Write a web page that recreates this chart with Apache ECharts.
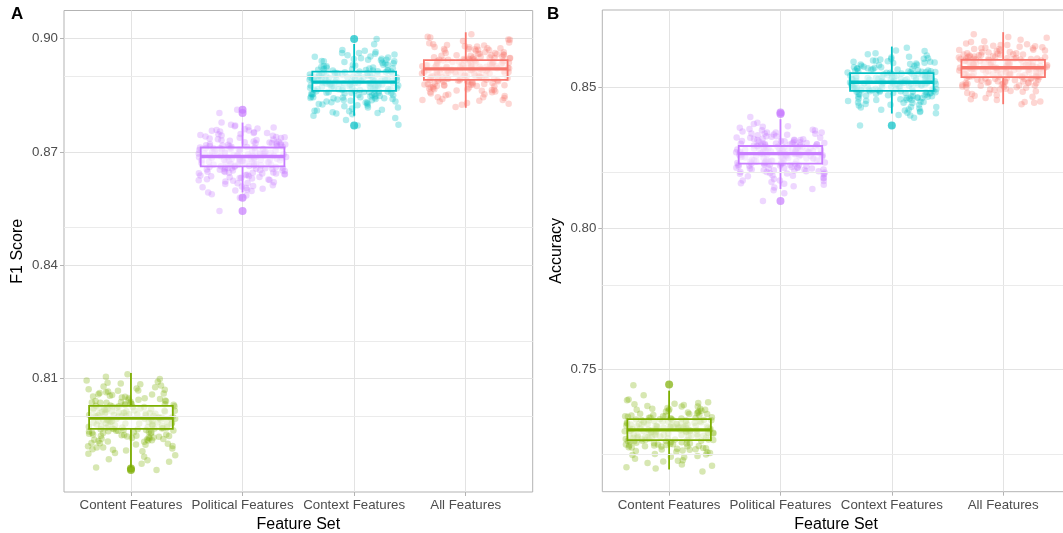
<!DOCTYPE html>
<html><head><meta charset="utf-8">
<script src="https://cdn.jsdelivr.net/npm/echarts@6/dist/echarts.min.js"></script>
<style>html,body{margin:0;padding:0;background:#fff}#c{width:1063px;height:533px}</style>
</head><body><div id="c"></div>
<script>
// ---------- data ----------
const categories = ['Content Features','Political Features','Context Features','All Features'];
const colors = ['#7CAE00','#C77CFF','#00BFC4','#F8766D'];
const yTicksA = [0.81,0.84,0.87,0.90];
const yMinorA = [0.795,0.825,0.855,0.885];
const yTicksB = [0.75,0.80,0.85];
const yMinorB = [0.725,0.775,0.825,0.875];

// Panel A: F1 Score per run
const f1Content = [0.7998,0.8032,0.7971,0.8010,0.7952,0.8045,0.7989,0.7925,0.8018,0.7967,0.8061,0.7994,0.7940,0.8027,0.7983,0.8089,0.7958,0.8004,0.7912,0.8036,0.7976,0.8069,0.8001,0.7935,0.8023,0.7962,0.8105,0.7990,0.7880,0.8014,0.7969,0.8052,0.7946,0.8007,0.7978,0.8095,0.7903,0.8029,0.7986,0.8040,0.7961,0.7858,0.8019,0.7949,0.8074,0.7996,0.7930,0.8012,0.7973,0.8112,0.7893,0.8035,0.7981,0.7918,0.8048,0.7865,0.8003,0.7965,0.8082,0.7942,
 0.7985,0.8021,0.7957,0.8008,0.7938,0.8050,0.7992,0.7970,0.8030,0.7915,0.8066,0.8000,0.7948,0.8016,0.7979,0.8079,0.7963,0.8025,0.7897,0.8042,0.7987,0.8058,0.7954,0.8011,0.7975,0.8099,0.7933,0.8033,0.7993,0.7922,0.8006,0.7959,0.8071,0.7984,0.7908,0.8038,0.7968,0.8055,0.7944,0.8015,0.7980,0.7875,0.8026,0.7955,0.8087,0.7997,0.7928,0.8009,0.7972,0.8044,0.7887,0.8020,0.7988,0.7950,0.8064,0.7937,0.8002,0.7966,0.8077,0.7910,
 0.7991,0.8013,0.7968,0.8037,0.7951,0.8002,0.7983,0.8057,0.7929,0.8019,0.7977,0.7999,0.8041,0.7960,0.8008,0.7944,0.8027,0.7986,0.8072,0.7918,0.8004,0.7973,0.8033,0.7956,0.7995,0.8015,0.7939,0.8049,0.7981,0.8010,0.7964,0.8085,0.7901,0.8024,0.7990,0.7947,0.8006,0.7976,0.8062,0.7934,0.8017,0.7969,0.8000,0.8039,0.7952,0.7993,0.8028,0.7921,0.8011,0.7982,0.8053,0.7943,0.8003,0.7966,0.8092,0.7884,0.8022,0.7987,0.7958,0.8046,0.7974,0.8007,0.7936,0.8031,0.7994,0.7962,0.8068,0.7913,0.8013,0.7979,0.8001,0.7949,0.8036,0.7970,0.8018,0.7941,0.8059,0.7985,0.7926,0.8025];
const f1Political = [0.8690,0.8715,0.8664,0.8702,0.8641,0.8731,0.8679,0.8625,0.8708,0.8657,0.8748,0.8686,0.8633,0.8721,0.8672,0.8765,0.8650,0.8697,0.8612,0.8726,0.8668,0.8756,0.8693,0.8630,0.8711,0.8655,0.8778,0.8683,0.8600,0.8705,0.8661,0.8740,0.8645,0.8699,0.8674,0.8803,0.8593,0.8719,0.8681,0.8734,0.8653,0.8544,0.8709,0.8640,0.8760,0.8688,0.8620,0.8701,0.8666,0.8812,0.8579,0.8724,0.8677,0.8607,0.8737,0.8585,0.8695,0.8659,0.8752,0.8636,
 0.8682,0.8707,0.8651,0.8694,0.8628,0.8736,0.8676,0.8660,0.8717,0.8615,0.8745,0.8689,0.8638,0.8703,0.8670,0.8758,0.8656,0.8713,0.8597,0.8728,0.8680,0.8743,0.8647,0.8700,0.8669,0.8770,0.8626,0.8720,0.8685,0.8617,0.8696,0.8652,0.8754,0.8678,0.8605,0.8723,0.8663,0.8739,0.8643,0.8704,0.8673,0.8588,0.8714,0.8648,0.8768,0.8691,0.8622,0.8698,0.8667,0.8732,0.8598,0.8710,0.8684,0.8644,0.8750,0.8632,0.8692,0.8658,0.8762,0.8610,
 0.8685,0.8703,0.8667,0.8722,0.8654,0.8694,0.8679,0.8741,0.8636,0.8710,0.8674,0.8689,0.8727,0.8660,0.8698,0.8646,0.8716,0.8681,0.8757,0.8624,0.8696,0.8671,0.8719,0.8657,0.8687,0.8706,0.8641,0.8733,0.8677,0.8700,0.8663,0.8766,0.8609,0.8713,0.8684,0.8649,0.8697,0.8672,0.8747,0.8639,0.8708,0.8668,0.8691,0.8725,0.8655,0.8686,0.8718,0.8627,0.8701,0.8678,0.8738,0.8645,0.8694,0.8665,0.8772,0.8603,0.8712,0.8682,0.8658,0.8730,0.8673,0.8699,0.8634,0.8720,0.8688,0.8662,0.8750,0.8618,0.8705,0.8676,0.8692,0.8651,0.8724,0.8669,0.8709,0.8643,0.8744,0.8683,0.8631,0.8715];
const f1Context = [0.8887,0.8910,0.8866,0.8899,0.8848,0.8925,0.8879,0.8832,0.8905,0.8860,0.8941,0.8884,0.8840,0.8916,0.8872,0.8956,0.8855,0.8894,0.8821,0.8920,0.8868,0.8948,0.8890,0.8837,0.8907,0.8858,0.8968,0.8881,0.8809,0.8902,0.8863,0.8934,0.8850,0.8896,0.8875,0.8999,0.8800,0.8914,0.8878,0.8929,0.8857,0.8770,0.8904,0.8845,0.8952,0.8886,0.8827,0.8898,0.8869,0.8985,0.8790,0.8918,0.8876,0.8815,0.8931,0.8772,0.8892,0.8861,0.8946,0.8843,
 0.8880,0.8903,0.8853,0.8893,0.8834,0.8930,0.8874,0.8859,0.8911,0.8818,0.8944,0.8889,0.8839,0.8900,0.8867,0.8958,0.8852,0.8909,0.8805,0.8923,0.8877,0.8940,0.8846,0.8897,0.8870,0.8962,0.8826,0.8913,0.8883,0.8812,0.8895,0.8851,0.8950,0.8876,0.8802,0.8917,0.8864,0.8936,0.8842,0.8901,0.8871,0.8785,0.8908,0.8847,0.8965,0.8888,0.8824,0.8893,0.8865,0.8927,0.8796,0.8906,0.8882,0.8844,0.8943,0.8831,0.8891,0.8856,0.8960,0.8808,
 0.8883,0.8901,0.8866,0.8920,0.8853,0.8892,0.8878,0.8938,0.8836,0.8908,0.8873,0.8887,0.8924,0.8859,0.8896,0.8845,0.8913,0.8880,0.8953,0.8823,0.8894,0.8870,0.8916,0.8856,0.8885,0.8903,0.8840,0.8930,0.8876,0.8898,0.8862,0.8962,0.8810,0.8910,0.8882,0.8848,0.8895,0.8871,0.8944,0.8838,0.8905,0.8867,0.8889,0.8922,0.8854,0.8884,0.8915,0.8828,0.8899,0.8877,0.8935,0.8844,0.8891,0.8864,0.8970,0.8803,0.8909,0.8881,0.8857,0.8927,0.8872,0.8897,0.8834,0.8917,0.8886,0.8861,0.8947,0.8818,0.8902,0.8875,0.8890,0.8850,0.8921,0.8868,0.8906,0.8842,0.8940,0.8882,0.8831,0.8912];
const f1All = [0.8921,0.8942,0.8897,0.8930,0.8880,0.8955,0.8912,0.8865,0.8937,0.8893,0.8969,0.8918,0.8872,0.8947,0.8905,0.8980,0.8888,0.8926,0.8855,0.8951,0.8900,0.8975,0.8923,0.8868,0.8939,0.8890,0.8994,0.8915,0.8845,0.8934,0.8895,0.8962,0.8883,0.8928,0.8908,0.9012,0.8838,0.8945,0.8911,0.8958,0.8889,0.8819,0.8936,0.8877,0.8978,0.8919,0.8860,0.8931,0.8902,0.9003,0.8830,0.8949,0.8909,0.8850,0.8960,0.8825,0.8925,0.8894,0.8972,0.8875,
 0.8914,0.8936,0.8886,0.8927,0.8866,0.8960,0.8908,0.8892,0.8944,0.8852,0.8973,0.8922,0.8874,0.8933,0.8901,0.8985,0.8887,0.8941,0.8840,0.8952,0.8911,0.8968,0.8879,0.8929,0.8904,0.8990,0.8862,0.8946,0.8916,0.8848,0.8927,0.8885,0.8977,0.8910,0.8836,0.8949,0.8898,0.8964,0.8876,0.8933,0.8906,0.8828,0.8940,0.8881,0.8998,0.8920,0.8858,0.8926,0.8899,0.8956,0.8834,0.8938,0.8917,0.8878,0.8971,0.8864,0.8924,0.8890,0.8983,0.8843,
 0.8918,0.8936,0.8901,0.8955,0.8888,0.8927,0.8913,0.8973,0.8871,0.8943,0.8908,0.8922,0.8959,0.8894,0.8931,0.8880,0.8948,0.8915,0.8988,0.8858,0.8929,0.8905,0.8951,0.8891,0.8920,0.8938,0.8875,0.8965,0.8911,0.8933,0.8897,0.8997,0.8845,0.8945,0.8917,0.8883,0.8930,0.8906,0.8979,0.8873,0.8940,0.8902,0.8924,0.8957,0.8889,0.8919,0.8950,0.8863,0.8934,0.8912,0.8970,0.8879,0.8926,0.8899,0.9005,0.8838,0.8944,0.8916,0.8892,0.8962,0.8907,0.8932,0.8869,0.8952,0.8921,0.8896,0.8982,0.8853,0.8937,0.8910,0.8925,0.8885,0.8956,0.8903,0.8941,0.8877,0.8975,0.8917,0.8866,0.8947];
// [lower whisker, Q1, median, Q3, upper whisker]
const f1Box = [[0.7865,0.7967,0.7996,0.8028,0.8115],[0.8593,0.8662,0.8688,0.8712,0.8778],[0.8796,0.8862,0.8885,0.8913,0.8986],[0.8817,0.8891,0.8920,0.8943,0.9017]];
const f1Outliers = [[0,0.7858],[0,0.7862],[1,0.8812],[1,0.8803],[1,0.8579],[1,0.8544],[2,0.8999],[2,0.8770]];

// Panel B: Accuracy per run
const accContent = [0.7289,0.7318,0.7262,0.7302,0.7240,0.7335,0.7279,0.7220,0.7310,0.7255,0.7352,0.7285,0.7228,0.7322,0.7270,0.7370,0.7247,0.7295,0.7200,0.7328,0.7266,0.7360,0.7292,0.7225,0.7314,0.7251,0.7385,0.7282,0.7185,0.7306,0.7259,0.7343,0.7236,0.7298,0.7274,0.7410,0.7170,0.7320,0.7280,0.7338,0.7249,0.7140,0.7312,0.7232,0.7365,0.7288,0.7212,0.7300,0.7264,0.7445,0.7160,0.7326,0.7277,0.7195,0.7346,0.7150,0.7294,0.7256,0.7378,0.7230,
 0.7277,0.7312,0.7248,0.7296,0.7222,0.7340,0.7283,0.7265,0.7320,0.7205,0.7355,0.7290,0.7235,0.7306,0.7268,0.7372,0.7252,0.7316,0.7180,0.7331,0.7281,0.7349,0.7242,0.7299,0.7262,0.7392,0.7214,0.7324,0.7286,0.7198,0.7297,0.7245,0.7362,0.7276,0.7175,0.7329,0.7258,0.7344,0.7234,0.7304,0.7271,0.7155,0.7317,0.7239,0.7380,0.7291,0.7208,0.7301,0.7261,0.7336,0.7165,0.7309,0.7284,0.7229,0.7358,0.7218,0.7293,0.7253,0.7375,0.7190,
 0.7285,0.7307,0.7264,0.7330,0.7248,0.7296,0.7279,0.7352,0.7226,0.7316,0.7272,0.7290,0.7335,0.7255,0.7301,0.7239,0.7322,0.7282,0.7370,0.7210,0.7298,0.7268,0.7325,0.7251,0.7287,0.7309,0.7232,0.7343,0.7276,0.7303,0.7259,0.7382,0.7192,0.7319,0.7284,0.7243,0.7299,0.7269,0.7358,0.7229,0.7313,0.7263,0.7292,0.7332,0.7249,0.7286,0.7323,0.7217,0.7305,0.7278,0.7349,0.7237,0.7297,0.7261,0.7395,0.7178,0.7317,0.7283,0.7253,0.7339,0.7271,0.7302,0.7223,0.7327,0.7288,0.7257,0.7362,0.7202,0.7308,0.7274,0.7294,0.7244,0.7334,0.7266,0.7311,0.7235,0.7355,0.7284,0.7219,0.7321];
const accPolitical = [0.8266,0.8293,0.8238,0.8279,0.8215,0.8310,0.8256,0.8195,0.8286,0.8232,0.8327,0.8262,0.8205,0.8298,0.8248,0.8343,0.8224,0.8272,0.8178,0.8303,0.8243,0.8335,0.8269,0.8200,0.8289,0.8228,0.8360,0.8259,0.8160,0.8282,0.8236,0.8318,0.8212,0.8275,0.8251,0.8395,0.8150,0.8296,0.8257,0.8314,0.8226,0.8097,0.8288,0.8208,0.8340,0.8264,0.8188,0.8277,0.8241,0.8408,0.8140,0.8301,0.8254,0.8170,0.8322,0.8125,0.8270,0.8233,0.8352,0.8206,
 0.8258,0.8287,0.8227,0.8273,0.8203,0.8316,0.8263,0.8244,0.8297,0.8185,0.8332,0.8268,0.8215,0.8284,0.8249,0.8350,0.8230,0.8294,0.8165,0.8309,0.8260,0.8325,0.8221,0.8278,0.8240,0.8370,0.8193,0.8302,0.8265,0.8175,0.8276,0.8223,0.8340,0.8255,0.8155,0.8306,0.8237,0.8321,0.8213,0.8283,0.8250,0.8135,0.8295,0.8218,0.8357,0.8270,0.8190,0.8280,0.8242,0.8313,0.8145,0.8290,0.8261,0.8209,0.8336,0.8198,0.8272,0.8234,0.8347,0.8168,
 0.8263,0.8285,0.8241,0.8308,0.8225,0.8274,0.8257,0.8330,0.8203,0.8294,0.8250,0.8268,0.8313,0.8232,0.8279,0.8216,0.8300,0.8260,0.8348,0.8187,0.8276,0.8246,0.8303,0.8228,0.8265,0.8287,0.8209,0.8321,0.8254,0.8281,0.8236,0.8362,0.8170,0.8297,0.8262,0.8220,0.8277,0.8247,0.8336,0.8206,0.8291,0.8240,0.8270,0.8310,0.8226,0.8264,0.8301,0.8194,0.8283,0.8256,0.8327,0.8214,0.8275,0.8238,0.8374,0.8158,0.8295,0.8261,0.8230,0.8317,0.8249,0.8280,0.8200,0.8305,0.8266,0.8234,0.8340,0.8180,0.8286,0.8252,0.8272,0.8222,0.8312,0.8244,0.8289,0.8212,0.8333,0.8262,0.8196,0.8299];
const accContext = [0.8519,0.8547,0.8494,0.8533,0.8472,0.8566,0.8510,0.8452,0.8541,0.8488,0.8582,0.8515,0.8460,0.8553,0.8503,0.8598,0.8480,0.8526,0.8435,0.8559,0.8498,0.8590,0.8522,0.8456,0.8544,0.8485,0.8612,0.8512,0.8420,0.8537,0.8491,0.8573,0.8468,0.8529,0.8506,0.8640,0.8412,0.8551,0.8513,0.8569,0.8482,0.8365,0.8540,0.8464,0.8594,0.8517,0.8444,0.8531,0.8496,0.8630,0.8402,0.8556,0.8508,0.8430,0.8578,0.8415,0.8524,0.8489,0.8605,0.8462,
 0.8511,0.8542,0.8480,0.8527,0.8455,0.8571,0.8516,0.8497,0.8552,0.8438,0.8586,0.8521,0.8466,0.8538,0.8502,0.8601,0.8484,0.8549,0.8418,0.8563,0.8514,0.8580,0.8474,0.8532,0.8493,0.8620,0.8446,0.8557,0.8520,0.8428,0.8530,0.8477,0.8592,0.8509,0.8408,0.8560,0.8490,0.8576,0.8467,0.8536,0.8501,0.8392,0.8548,0.8471,0.8608,0.8523,0.8441,0.8534,0.8495,0.8565,0.8400,0.8543,0.8518,0.8459,0.8588,0.8449,0.8528,0.8486,0.8600,0.8425,
 0.8516,0.8539,0.8494,0.8562,0.8477,0.8527,0.8510,0.8584,0.8455,0.8548,0.8503,0.8521,0.8567,0.8484,0.8532,0.8468,0.8554,0.8513,0.8603,0.8438,0.8529,0.8499,0.8557,0.8480,0.8518,0.8541,0.8461,0.8575,0.8507,0.8535,0.8488,0.8617,0.8421,0.8551,0.8515,0.8472,0.8530,0.8500,0.8590,0.8458,0.8545,0.8493,0.8523,0.8564,0.8478,0.8517,0.8555,0.8445,0.8537,0.8509,0.8581,0.8466,0.8528,0.8490,0.8628,0.8410,0.8549,0.8514,0.8482,0.8571,0.8502,0.8533,0.8451,0.8559,0.8519,0.8486,0.8595,0.8430,0.8540,0.8505,0.8525,0.8474,0.8566,0.8496,0.8543,0.8463,0.8587,0.8515,0.8448,0.8553];
const accAll = [0.8570,0.8596,0.8543,0.8582,0.8520,0.8614,0.8561,0.8502,0.8590,0.8538,0.8630,0.8566,0.8510,0.8601,0.8554,0.8645,0.8530,0.8577,0.8487,0.8607,0.8548,0.8638,0.8573,0.8506,0.8593,0.8535,0.8660,0.8563,0.8472,0.8586,0.8541,0.8620,0.8516,0.8580,0.8557,0.8688,0.8462,0.8599,0.8564,0.8617,0.8532,0.8440,0.8588,0.8512,0.8642,0.8568,0.8495,0.8579,0.8546,0.8678,0.8455,0.8604,0.8559,0.8480,0.8625,0.8448,0.8575,0.8539,0.8652,0.8514,
 0.8562,0.8591,0.8530,0.8578,0.8505,0.8619,0.8567,0.8549,0.8602,0.8490,0.8635,0.8572,0.8519,0.8589,0.8553,0.8650,0.8534,0.8598,0.8470,0.8612,0.8564,0.8628,0.8524,0.8583,0.8545,0.8668,0.8498,0.8606,0.8569,0.8478,0.8581,0.8527,0.8640,0.8560,0.8458,0.8609,0.8540,0.8624,0.8515,0.8587,0.8552,0.8445,0.8600,0.8521,0.8655,0.8574,0.8492,0.8584,0.8547,0.8616,0.8450,0.8595,0.8565,0.8509,0.8633,0.8500,0.8576,0.8537,0.8647,0.8484,
 0.8567,0.8589,0.8546,0.8611,0.8530,0.8578,0.8561,0.8632,0.8509,0.8598,0.8555,0.8572,0.8616,0.8537,0.8583,0.8521,0.8604,0.8564,0.8650,0.8492,0.8580,0.8551,0.8607,0.8533,0.8569,0.8591,0.8515,0.8623,0.8559,0.8586,0.8541,0.8663,0.8476,0.8601,0.8566,0.8525,0.8581,0.8552,0.8638,0.8512,0.8595,0.8545,0.8574,0.8613,0.8531,0.8568,0.8605,0.8500,0.8587,0.8560,0.8629,0.8519,0.8579,0.8543,0.8675,0.8466,0.8599,0.8565,0.8535,0.8620,0.8554,0.8584,0.8506,0.8609,0.8570,0.8539,0.8643,0.8486,0.8590,0.8557,0.8576,0.8527,0.8615,0.8549,0.8593,0.8517,0.8635,0.8567,0.8503,0.8602];
const accBox = [[0.7147,0.7251,0.7287,0.7325,0.7426],[0.8140,0.8230,0.8265,0.8292,0.8387],[0.8407,0.8487,0.8518,0.8550,0.8644],[0.8440,0.8536,0.8569,0.8597,0.8695]];
const accOutliers = [[0,0.7448],[1,0.8405],[1,0.8411],[1,0.8097],[2,0.8365]];

// ---------- chart ----------
const TXT = '#4D4D4D', FONT = '"Liberation Sans", Arial, sans-serif';
const catPos = categories.map((c,i)=>i+1);
// deterministic horizontal jitter offset within +-0.4 category units (position only)
function jitter(i, g){ const s = Math.sin(i * 12.9898 + g * 78.233 + 1.7) * 43758.5453; return (s - Math.floor(s)) * 0.8 - 0.4; }
function jitterSeries(vals, g, axis){
  return {type:'scatter', xAxisIndex:axis, yAxisIndex:axis, z:2, silent:true,
    symbolSize:6.5, itemStyle:{color:colors[g], opacity:0.3},
    data: vals.map((v,i)=>[g+1+jitter(i + axis*1000, g), v])};
}
function renderBox(params, api){
  const x = api.value(0), c = colors[params.dataIndex];
  const hw = api.size([0.75,0])[0]/2;
  const lo = api.coord([x, api.value(1)]), q1 = api.coord([x, api.value(2)]),
        md = api.coord([x, api.value(3)]), q3 = api.coord([x, api.value(4)]),
        hi = api.coord([x, api.value(5)]);
  return {type:'group', children:[
    {type:'line', shape:{x1:q3[0], y1:q3[1], x2:hi[0], y2:hi[1]}, style:{stroke:c, lineWidth:1.8}},
    {type:'line', shape:{x1:q1[0], y1:q1[1], x2:lo[0], y2:lo[1]}, style:{stroke:c, lineWidth:1.8}},
    {type:'rect', shape:{x:q3[0]-hw, y:q3[1], width:2*hw, height:q1[1]-q3[1]},
      style:{fill:'rgba(255,255,255,0.55)', stroke:c, lineWidth:1.8}},
    {type:'line', shape:{x1:md[0]-hw, y1:md[1], x2:md[0]+hw, y2:md[1]}, style:{stroke:c, lineWidth:3.4}}
  ]};
}
function boxSeries(box, axis){
  return {type:'custom', xAxisIndex:axis, yAxisIndex:axis, z:3, silent:true,
    renderItem: renderBox, encode:{x:0, y:[1,2,3,4,5]},
    data: box.map((b,i)=>[i+1].concat(b))};
}
function outlierSeries(outs, axis){
  return {type:'scatter', xAxisIndex:axis, yAxisIndex:axis, z:4, silent:true, symbolSize:8,
    itemStyle:{color:p=>colors[p.value[0]-1], opacity:0.7},
    data: outs.map(o=>[o[0]+1, o[1]])};
}
function minorSeries(vals, axis){
  return {type:'line', xAxisIndex:axis, yAxisIndex:axis, z:1, data:[], silent:true,
    markLine:{silent:true, symbol:'none', label:{show:false}, animation:false,
      lineStyle:{color:'#EBEBEB', width:1, type:'solid'},
      data: vals.map(v=>({yAxis:v}))}};
}
function xAxisDef(idx, name){
  return {type:'value', gridIndex:idx, min:0.4, max:4.6, splitNumber:4,
    name:name, nameLocation:'middle', nameGap:24,
    nameTextStyle:{color:'#000', fontSize:16, fontFamily:FONT},
    axisLine:{show:false}, axisTick:{show:true, length:4, customValues:catPos, lineStyle:{color:'#B3B3B3'}},
    axisLabel:{color:TXT, fontSize:13.3, fontFamily:FONT, margin:7, customValues:catPos,
      formatter:v=>{const r=Math.round(v); return (Math.abs(v-r)<1e-6 && r>=1 && r<=4)?categories[r-1]:'';}},
    splitLine:{show:true, lineStyle:{color:'#E3E3E3', width:1}}};
}
function yAxisDef(idx, name, ticks, extra){
  return Object.assign({type:'value', gridIndex:idx, name:name, nameLocation:'middle', nameGap:38,
    nameTextStyle:{color:'#000', fontSize:16, fontFamily:FONT},
    axisLine:{show:false}, axisTick:{show:true, length:4, customValues:ticks, lineStyle:{color:'#B3B3B3'}},
    axisLabel:{color:TXT, fontSize:13.3, fontFamily:FONT, margin:6, customValues:ticks,
      formatter:v=>ticks.some(t=>Math.abs(t-v)<1e-7)?v.toFixed(2):''},
    splitLine:{show:true, lineStyle:{color:'#E3E3E3', width:1}}}, extra);
}

const chart = echarts.init(document.getElementById('c'), null, {renderer:'canvas'});
chart.setOption({
  animation:false,
  backgroundColor:'#fff',
  grid:[
    {left:64, right:530.3, top:10.5, bottom:41, show:true, borderColor:'#B3B3B3', borderWidth:1, backgroundColor:'transparent', containLabel:false, outerBoundsMode:'none'},
    {left:602.3, right:-7, top:10, bottom:41.3, show:true, borderColor:'#B3B3B3', borderWidth:1, backgroundColor:'transparent', containLabel:false, outerBoundsMode:'none'}
  ],
  xAxis:[xAxisDef(0,'Feature Set'), xAxisDef(1,'Feature Set')],
  yAxis:[
    yAxisDef(0,'F1 Score', yTicksA, {min:0.78, max:0.90746, interval:0.03}),
    yAxisDef(1,'Accuracy', yTicksB, {min:0.70683, max:0.87735, splitNumber:3})
  ],
  graphic:[
    {type:'text', left:11, top:6, style:{text:'A', font:'bold 17px '+FONT, fill:'#000'}},
    {type:'text', left:547, top:6, style:{text:'B', font:'bold 17px '+FONT, fill:'#000'}}
  ],
  series:[
    minorSeries(yMinorA,0), minorSeries(yMinorB,1),
    jitterSeries(f1Content,0,0), jitterSeries(f1Political,1,0), jitterSeries(f1Context,2,0), jitterSeries(f1All,3,0),
    jitterSeries(accContent,0,1), jitterSeries(accPolitical,1,1), jitterSeries(accContext,2,1), jitterSeries(accAll,3,1),
    boxSeries(f1Box,0), boxSeries(accBox,1),
    outlierSeries(f1Outliers,0), outlierSeries(accOutliers,1)
  ]
});
</script></body></html>
